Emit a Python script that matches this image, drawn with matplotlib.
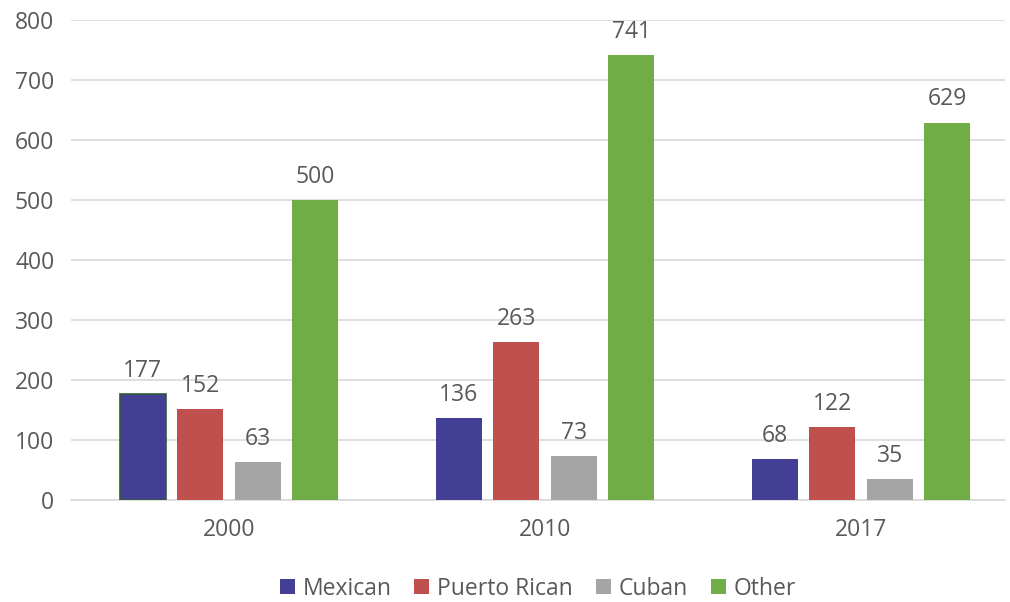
import matplotlib
matplotlib.use("Agg")
import matplotlib.pyplot as plt
from matplotlib.patches import Patch
import numpy as np

years = ["2000", "2010", "2017"]
series = ["Mexican", "Puerto Rican", "Cuban", "Other"]
mexican = [177, 136, 68]
puerto_rican = [152, 263, 122]
cuban = [63, 73, 35]
other = [500, 741, 629]

colors = ["#423F94", "#C0504D", "#A5A5A5", "#70AD47"]
text_color = "#595959"
fs = 16.5

plt.rcParams["font.family"] = ["Open Sans", "DejaVu Sans"]

fig = plt.figure(figsize=(10.10, 6.02), dpi=100)
ax = fig.add_axes([71 / 1010, 102 / 602, 934 / 1010, 480 / 602])

x = np.arange(len(years))
step = 0.182
width = 0.146
values = [mexican, puerto_rican, cuban, other]
for i, (name, vals, col) in enumerate(zip(series, values, colors)):
    pos = x + (i - 1.5) * step
    bars = ax.bar(pos, vals, width, color=col, zorder=3)
    for b, v in zip(bars, vals):
        ax.annotate(f"{v}", (b.get_x() + b.get_width() / 2, v),
                    xytext=(0, 8), textcoords="offset points",
                    ha="center", va="bottom", fontsize=fs, color=text_color)
    if i == 0:
        # first bar has a dark outline in the original
        bars[0].set_edgecolor("#2F5B3A")
        bars[0].set_linewidth(1.2)

ax.set_xlim(-0.5, 2.456)
ax.set_ylim(0, 800)
ax.set_yticks(range(0, 801, 100))
ax.set_xticks(x)
ax.set_xticklabels(years)
ax.yaxis.grid(True, color="#D9D9D9", linewidth=1.2, zorder=0)
ax.set_axisbelow(True)
for s in ["top", "right", "left"]:
    ax.spines[s].set_visible(False)
ax.spines["bottom"].set_color("#D9D9D9")
ax.spines["bottom"].set_linewidth(1.2)
ax.tick_params(axis="both", length=0, labelsize=fs, colors=text_color)
ax.tick_params(axis="x", pad=13)
ax.tick_params(axis="y", pad=12)

handles = [Patch(facecolor=c, label=n) for c, n in zip(colors, series)]
leg = ax.legend(handles=handles, loc="center", bbox_to_anchor=(0.5, -0.185),
                ncol=4, frameon=False, fontsize=fs, handlelength=0.65,
                handleheight=0.65, handletextpad=0.35, columnspacing=1.0,
                borderpad=0.1)
for t in leg.get_texts():
    t.set_color(text_color)

fig.savefig("out.png", dpi=100)
